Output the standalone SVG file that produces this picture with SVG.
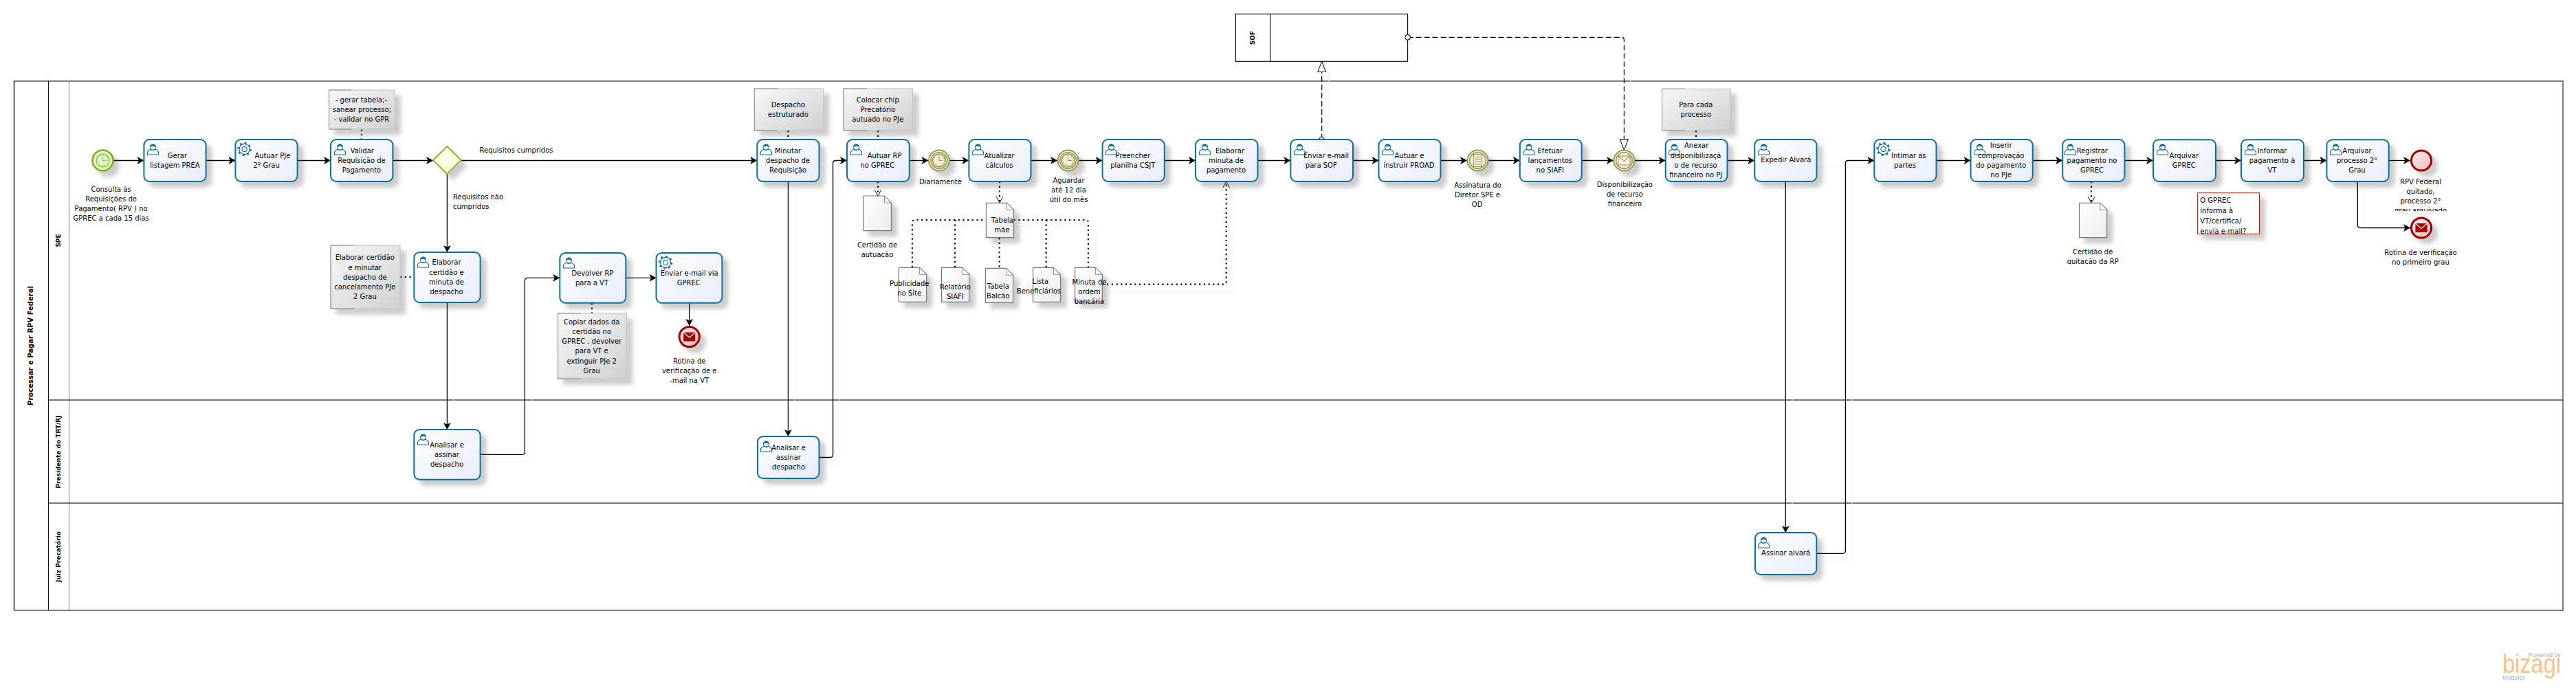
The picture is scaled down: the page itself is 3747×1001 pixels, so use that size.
<svg xmlns="http://www.w3.org/2000/svg" xmlns:xlink="http://www.w3.org/1999/xlink" width="3747" height="1001" viewBox="0 0 3747 1001">
<style>
text{font-family:"DejaVu Sans","Liberation Sans",sans-serif;fill:#000}
.t{font-size:10px;text-anchor:middle}
.l{font-size:10px;text-anchor:start}
.h{font-size:9px;font-weight:bold;text-anchor:middle;fill:#000}
.task{fill:url(#gTask);stroke:#0f6d9c;stroke-width:2;filter:url(#sh)}
.note{fill:url(#gNote);stroke:#bdbdbd;stroke-width:1;filter:url(#sh)}
.nedge{fill:none;stroke:#8c8c8c;stroke-width:1}
.doc{fill:url(#gDoc);stroke:#777;stroke-width:1.2;filter:url(#sh)}
.fold{fill:#fff;stroke:#888;stroke-width:1}
.seq{fill:none;stroke:#000;stroke-width:1.3;marker-end:url(#arrow)}
.dot{fill:none;stroke:#000;stroke-width:2.2;stroke-dasharray:2.2 4.5}
.doto{fill:none;stroke:#000;stroke-width:2.2;stroke-dasharray:2.2 4.5;marker-end:url(#open)}
.msg{fill:none;stroke:#000;stroke-width:1.2;stroke-dasharray:8 4;marker-start:url(#ring);marker-end:url(#hollow)}
.ghost{fill:none;stroke:#f4f4f4;stroke-width:1}
.pool{fill:none;stroke:#4a4a4a;stroke-width:1.4}
.ev-i{fill:url(#gInt);stroke:#9a9552;stroke-width:2}
.ev-in{fill:none;stroke:#9a9552;stroke-width:1.6}
.ev-e{fill:url(#gEnd);stroke:#a00000;stroke-width:3;filter:url(#sh)}
.ui{fill:#fff;stroke:#0f6d9c;stroke-width:1.1}
</style>
<defs>
<linearGradient id="gTask" x1="0" y1="0" x2="1" y2="1"><stop offset="0" stop-color="#fff"/><stop offset="1" stop-color="#e8edfd"/></linearGradient>
<linearGradient id="gNote" x1="0" y1="0" x2="1" y2="1"><stop offset="0" stop-color="#f8f8f8"/><stop offset="1" stop-color="#d0d0d0"/></linearGradient>
<linearGradient id="gDoc" x1="0" y1="0" x2="1" y2="1"><stop offset="0" stop-color="#fff"/><stop offset="1" stop-color="#ececec"/></linearGradient>
<linearGradient id="gGate" x1="0" y1="0" x2="1" y2="1"><stop offset="0" stop-color="#fffff2"/><stop offset="1" stop-color="#fbfbd2"/></linearGradient>
<linearGradient id="gStart" x1="0" y1="0" x2="1" y2="1"><stop offset="0" stop-color="#f4fae6"/><stop offset="1" stop-color="#d9edb0"/></linearGradient>
<linearGradient id="gInt" x1="0" y1="0" x2="1" y2="1"><stop offset="0" stop-color="#fbf9ee"/><stop offset="1" stop-color="#eae5c6"/></linearGradient>
<linearGradient id="gEnd" x1="0" y1="0" x2="1" y2="1"><stop offset="0" stop-color="#fdf0f0"/><stop offset="1" stop-color="#e8bcbc"/></linearGradient>
<filter id="sh" x="-40%" y="-40%" width="190%" height="190%"><feDropShadow dx="8" dy="8" stdDeviation="3" flood-color="#000" flood-opacity="0.2"/></filter>
<marker id="arrow" markerUnits="userSpaceOnUse" markerWidth="11" markerHeight="12" refX="10" refY="6" orient="auto"><path d="M0 0.5L10 6L0 11.5L2.5 6Z" fill="#000"/></marker>
<marker id="open" markerUnits="userSpaceOnUse" markerWidth="12" markerHeight="12" refX="10" refY="6" orient="auto"><path d="M1 1L10 6L1 11" fill="none" stroke="#000" stroke-width="0.9"/></marker>
<marker id="hollow" markerUnits="userSpaceOnUse" markerWidth="18" markerHeight="14" refX="16" refY="7" orient="auto"><path d="M0.5 1L16 7L0.5 13Z" fill="#fff" stroke="#000" stroke-width="1"/></marker>
<marker id="ring" markerUnits="userSpaceOnUse" markerWidth="10" markerHeight="10" refX="5" refY="5" orient="auto"><circle cx="5" cy="5" r="3.8" fill="#fff" stroke="#000" stroke-width="1"/></marker>
<g id="user"><path class="ui" d="M.5 16V12.5C.5 10 3 9.2 5.5 8 6.5 10 10.5 10 11.5 8 14 9.2 16.5 10 16.5 12.5V16Z"/><circle class="ui" cx="8.5" cy="5" r="4"/><path d="M4.5 5C4.5-.8 12.5-.8 12.5 5 10 3.4 7 3.4 4.5 5Z" fill="#0f6d9c"/></g>
<g id="gear"><circle r="9" fill="none" stroke="#0f6d9c" stroke-width="2.6" stroke-dasharray="2.6 4.47"/><circle r="7.6" fill="#fff" stroke="#0f6d9c" stroke-width="1.1"/><circle r="3.6" fill="#fff" stroke="#0f6d9c" stroke-width="1.1"/></g>
<g id="clock"><circle r="9.5" fill="none" stroke="currentColor" stroke-width="1.3"/><circle r="7.8" fill="none" stroke="currentColor" stroke-width="1.5" stroke-dasharray="1.2 2.9"/><path d="M0-6V0H5.5" fill="none" stroke="currentColor" stroke-width="1.1"/></g>
<g id="mailE"><rect x="-8.5" y="-6.5" width="17" height="13" fill="#a00000"/><path d="M-8.5-6.5L0 1 8.5-6.5" fill="none" stroke="#f6d9d9" stroke-width="1.5"/></g>
<clipPath id="cRpv"><rect x="3470" y="255" width="110" height="52"/></clipPath>
<clipPath id="cCom"><rect x="3197" y="281" width="90" height="59"/></clipPath>
<clipPath id="cReq"><rect x="650" y="270" width="90" height="35"/></clipPath>
<clipPath id="cAut"><rect x="1230" y="345" width="90" height="29.5"/></clipPath>
<clipPath id="cQui"><rect x="2990" y="355" width="110" height="29.5"/></clipPath>
</defs>
<rect width="3747" height="1001" fill="#fff"/>

<g id="pool-main">
<rect class="pool" x="20.5" y="118" width="3707.5" height="770"/>
<path d="M20.5 118V888M70.5 118V888" stroke="#111" stroke-width="1.1" fill="none"/>
<path d="M100.5 118V888" stroke="#666" stroke-width="0.8" fill="none"/>
<path class="pool" d="M70.5 582H3728M70.5 732H3728"/>
<text class="h" style="font-size:10px" transform="translate(48 503) rotate(-90)">Processar e Pagar RPV Federal</text>
<text class="h" transform="translate(88 350) rotate(-90)">SPE</text>
<text class="h" transform="translate(88 657.5) rotate(-90)">Presidente do TRT/RJ</text>
<text class="h" transform="translate(88 810) rotate(-90)">Juiz Precatório</text>
</g>

<g id="connectors">
<g id="connector-shadows">
<path class="ghost" d="M175 243H3516"/>
<path class="ghost" d="M660 263V635M1156 274V645M2607 274V785"/>
<path class="ghost" d="M708 671H769Q773 671 773 667V418Q773 414 777 414H824"/>
<path class="ghost" d="M1201 675H1217Q1221 675 1221 671V247Q1221 243 1225 243H1242"/>
<path class="ghost" d="M2652 815H2690Q2694 815 2694 811V247Q2694 243 2698 243H2736"/>
<path class="ghost" d="M1336 399V334Q1336 330 1340 330H1590Q1594 330 1594 334V399"/>
<path class="ghost" d="M1399 399V334M1531 399V334M1463 356V400"/>
<path class="ghost" d="M1613 424H1790Q1794 424 1794 420V274"/>
<path class="ghost" d="M2058 65H2368Q2372 65 2372 69V210M1933 100V213"/>
<path class="ghost" d="M3439 274V338Q3439 342 3443 342H3516"/>
</g>
<path class="seq" d="M165 233.5H209.4"/>
<path class="seq" d="M299.6 233.5H342.4"/>
<path class="seq" d="M432.6 233.5H481"/>
<path class="seq" d="M571.4 233.5H630"/>
<path class="seq" d="M670.5 233.5H1101.3"/>
<path class="seq" d="M650.4 253V367"/>
<path class="seq" d="M650.4 440V625"/>
<path class="seq" d="M698.7 661.4H759.4Q763.4 661.4 763.4 657.4V408.3Q763.4 404.3 767.4 404.3H814.3"/>
<path class="seq" d="M910.3 404.3H954.5"/>
<path class="seq" d="M1002.7 440.7V474"/>
<path class="seq" d="M1146.4 264V635"/>
<path class="seq" d="M1191.5 665.5H1207.6Q1211.6 665.5 1211.6 661.5V237.5Q1211.6 233.5 1215.6 233.5H1232"/>
<path class="seq" d="M1322.8 233.5H1350.4"/>
<path class="seq" d="M1381.6 233.5H1409.4"/>
<path class="seq" d="M1499.5 233.5H1538"/>
<path class="seq" d="M1569.2 233.5H1603.6"/>
<path class="seq" d="M1693.8 233.5H1739"/>
<path class="seq" d="M1829.4 233.5H1877.3"/>
<path class="seq" d="M1968 233.5H2005.5"/>
<path class="seq" d="M2095.5 233.5H2134"/>
<path class="seq" d="M2165 233.5H2210.8"/>
<path class="seq" d="M2300.7 233.5H2347"/>
<path class="seq" d="M2378 233.5H2422.7"/>
<path class="seq" d="M2512.5 233.5H2552.2"/>
<path class="seq" d="M2597.3 264V775"/>
<path class="seq" d="M2642.3 805.3H2680.4Q2684.4 805.3 2684.4 801.3V237.5Q2684.4 233.5 2688.4 233.5H2726.3"/>
<path class="seq" d="M2816.5 233.5H2866.5"/>
<path class="seq" d="M2956.7 233.5H3000.2"/>
<path class="seq" d="M3090.4 233.5H3132"/>
<path class="seq" d="M3223 233.5H3260"/>
<path class="seq" d="M3351 233.5H3384.4"/>
<path class="seq" d="M3474.7 233.5H3506"/>
<path class="seq" d="M3429.3 264V327.5Q3429.3 331.5 3433.3 331.5H3506"/>
<path class="dot" d="M526 188V203"/>
<path class="dot" d="M582 403H602"/>
<path class="dot" d="M861 441V456"/>
<path class="dot" d="M1146.4 190V203"/>
<path class="dot" d="M1277 190V203"/>
<path class="dot" d="M2467 190V203"/>
<path class="doto" d="M1277 264V285"/>
<path class="doto" d="M1454 264V295"/>
<path class="doto" d="M3042 264V295"/>
<path class="dot" d="M1327 389V324Q1327 320 1331 320H1434"/>
<path class="dot" d="M1389 389V324Q1389 320 1393 320"/>
<path class="dot" d="M1453.7 346V390"/>
<path class="dot" d="M1474.6 320H1579Q1583 320 1583 324V389"/>
<path class="dot" d="M1521.7 389V320"/>
<path class="doto" d="M1603.4 413.7H1779.7Q1783.7 413.7 1783.7 409.7V264"/>
<path class="msg" d="M1922.7 203V89.3"/>
<path class="msg" d="M2047.6 54.3H2358.4Q2362.4 54.3 2362.4 58.3V218"/>
</g>

<g id="sof">
<rect x="1797.4" y="20.3" width="250.2" height="69" fill="#fff" stroke="#000" stroke-width="1.1"/>
<path d="M1847.6 20.3V89.3" stroke="#000" stroke-width="1.1"/>
<text class="h" transform="translate(1825 55) rotate(-90)">SOF</text>
<circle cx="2047.6" cy="54.3" r="3.8" fill="#fff" stroke="#000" stroke-width="1"/>
</g>

<g id="start-consulta">
<circle cx="149.5" cy="233.5" r="15" fill="url(#gStart)" stroke="#74b21c" stroke-width="2.6" filter="url(#sh)"/>
<use href="#clock" x="149.5" y="233.5" style="color:#8fc43c"/>
<text class="t" x="161.6" y="278.5">Consulta às</text><text class="t" x="161.6" y="292.5">Requisições de</text><text class="t" x="161.6" y="306.5">Pagamento( RPV ) no</text><text class="t" x="161.6" y="320.5">GPREC a cada 15 dias</text>
</g>
<g id="t-gerar"><rect class="task" x="209.4" y="203" width="90.2" height="61" rx="8"/><use href="#user" x="214" y="209"/><text class="t" x="258" y="229.8">Gerar</text><text class="t" x="254.5" y="243.8">listagem PREA</text></g>
<g id="t-autuar-pje"><rect class="task" x="342.4" y="203" width="90.2" height="61" rx="8"/><use href="#gear" x="355.5" y="217"/><text class="t" x="396.4" y="229.8">Autuar PJe</text><text class="t" x="387.5" y="243.8">2º Grau</text></g>
<g id="t-validar"><rect class="task" x="481" y="203" width="90.4" height="61" rx="8"/><use href="#user" x="486" y="209"/><text class="t" x="526.8" y="222.8">Validar</text><text class="t" x="526" y="236.8">Requisição de</text><text class="t" x="526" y="250.8">Pagamento</text></g>
<g id="n-gerar"><rect class="note" x="478.6" y="131" width="95.9" height="57"/><path class="nedge" d="M511 131H478.6V188H511"/><text class="t" x="525.4" y="148.5">- gerar tabela;-</text><text class="t" x="526.3" y="162.5">sanear processo;</text><text class="t" x="526" y="176.5">- validar no GPR</text></g>
<g id="gw-requisitos"><path d="M650.4 213L670.5 233L650.4 253L630 233Z" fill="url(#gGate)" stroke="#a9a738" stroke-width="2" filter="url(#sh)"/>
<text class="t" x="751" y="222">Requisitos cumpridos</text>
<g clip-path="url(#cReq)"><text class="l" x="659" y="290">Requisitos não</text><text class="l" x="659" y="304">cumpridos</text></g></g>
<g id="n-elaborar"><rect class="note" x="481" y="357" width="101" height="92"/><path class="nedge" d="M515 357H481V449H515"/><text class="t" x="530.8" y="377.5">Elaborar certidão</text><text class="t" x="530.8" y="392.5">e minutar</text><text class="t" x="530.8" y="406.5">despacho de</text><text class="t" x="530.8" y="420.5">cancelamento PJe</text><text class="t" x="530.8" y="434.5">2 Grau</text></g>
<g id="t-elaborar"><rect class="task" x="602.3" y="367" width="96.3" height="73" rx="8"/><use href="#user" x="607" y="373"/><text class="t" x="649.5" y="384.5">Elaborar</text><text class="t" x="649.5" y="399.5">certidão e</text><text class="t" x="649.5" y="413.5">minuta de</text><text class="t" x="649.5" y="427.5">despacho</text></g>
<g id="t-analisar1"><rect class="task" x="602.3" y="625" width="96.3" height="72.7" rx="8"/><use href="#user" x="607" y="631"/><text class="t" x="650" y="650.8">Analisar e</text><text class="t" x="650" y="664.8">assinar</text><text class="t" x="650" y="678.8">despacho</text></g>
<g id="t-devolver"><rect class="task" x="814.3" y="368" width="96" height="72.7" rx="8"/><use href="#user" x="819" y="374"/><text class="t" x="862" y="400.8">Devolver RP</text><text class="t" x="861" y="414.8">para a VT</text></g>
<g id="t-enviar-gprec"><rect class="task" x="954.5" y="368" width="95.9" height="72.7" rx="8"/><use href="#gear" x="968" y="382"/><text class="t" x="1002.7" y="400.8">Enviar e-mail via</text><text class="t" x="1001.8" y="414.8">GPREC</text></g>
<g id="n-copiar"><rect class="note" x="811.6" y="456" width="100" height="95"/><path class="nedge" d="M845 456H811.6V551H845"/><text class="t" x="860.7" y="471.8">Copiar dados da</text><text class="t" x="860.7" y="485.8">certidão no</text><text class="t" x="860.7" y="499.8">GPREC ,  devolver</text><text class="t" x="860.7" y="513.8">para VT e</text><text class="t" x="860.7" y="528.8">extinguir PJe 2</text><text class="t" x="860.7" y="542.8">Grau</text></g>
<g id="end-rotina-vt"><circle class="ev-e" cx="1002.7" cy="490" r="14.6"/><use href="#mailE" x="1002.7" y="490"/><text class="t" x="1002.7" y="528.8">Rotina de</text><text class="t" x="1002.7" y="542.8">verificação de  e</text><text class="t" x="1002.7" y="556.8">-mail na VT</text></g>
<g id="t-minutar"><rect class="task" x="1101.3" y="203" width="90.2" height="61" rx="8"/><use href="#user" x="1106" y="209"/><text class="t" x="1146" y="222.8">Minutar</text><text class="t" x="1146" y="236.8">despacho de</text><text class="t" x="1146" y="250.8">Requisição</text></g>
<g id="n-despacho"><rect class="note" x="1097.3" y="129" width="100.5" height="60.7"/><path class="nedge" d="M1131 129H1097.3V189.7H1131"/><text class="t" x="1146.4" y="155.8">Despacho</text><text class="t" x="1146.4" y="169.8">estruturado</text></g>
<g id="t-analisar2"><rect class="task" x="1102" y="635" width="89.5" height="61" rx="8"/><use href="#user" x="1106" y="641"/><text class="t" x="1147" y="654.8">Analisar e</text><text class="t" x="1147" y="668.8">assinar</text><text class="t" x="1147" y="682.8">despacho</text></g>
<g id="n-colocar"><rect class="note" x="1227" y="129" width="100.7" height="60.7"/><path class="nedge" d="M1261 129H1227V189.7H1261"/><text class="t" x="1276.8" y="148.8">Colocar chip</text><text class="t" x="1276.8" y="162.8">Precatório</text><text class="t" x="1276.8" y="176.8">autuado no PJe</text></g>
<g id="t-autuar-rp"><rect class="task" x="1232" y="203" width="90.8" height="61" rx="8"/><use href="#user" x="1237" y="209"/><text class="t" x="1286.6" y="229.8">Autuar RP</text><text class="t" x="1276.3" y="243.8">no GPREC</text></g>
<g id="d-certidao"><path class="doc" d="M1256 285H1286.4L1296.4 295V335.7H1256Z"/><path class="fold" d="M1286.4 285V295H1296.4Z"/><g clip-path="url(#cAut)"><text class="t" x="1276" y="359.5">Certidão de</text><text class="t" x="1276" y="373.5">autuação</text></g></g>
<g id="ev-diariamente"><circle class="ev-i" cx="1366" cy="233.5" r="15" filter="url(#sh)"/><circle class="ev-in" cx="1366" cy="233.5" r="11.8"/><use href="#clock" x="1366" y="233.5" style="color:#9a9552"/><text class="t" x="1367.9" y="267.5">Diariamente</text></g>
<g id="t-atualizar"><rect class="task" x="1409.4" y="203" width="90.1" height="61" rx="8"/><use href="#user" x="1414" y="209"/><text class="t" x="1453.6" y="229.8">Atualizar</text><text class="t" x="1453.6" y="243.8">cálculos</text></g>
<g id="ev-aguardar"><circle class="ev-i" cx="1553.6" cy="233.5" r="15" filter="url(#sh)"/><circle class="ev-in" cx="1553.6" cy="233.5" r="11.8"/><use href="#clock" x="1553.6" y="233.5" style="color:#9a9552"/><text class="t" x="1554.5" y="265.8">Aguardar</text><text class="t" x="1554.5" y="279.8">até 12 dia</text><text class="t" x="1554.5" y="293.8">útil do mês</text></g>
<g id="t-preencher"><rect class="task" x="1603.6" y="203" width="90.2" height="61" rx="8"/><use href="#user" x="1608" y="209"/><text class="t" x="1647.8" y="229.8">Preencher</text><text class="t" x="1647.8" y="243.8">planilha CSJT</text></g>
<g id="d-tabela-mae"><path class="doc" d="M1434.4 295.3H1464.6L1474.6 305.3V345.7H1434.4Z"/><path class="fold" d="M1464.6 295.3V305.3H1474.6Z"/><text class="t" x="1458" y="323.5">Tabela</text><text class="t" x="1457.6" y="337.8">mãe</text></g>
<g id="d-publicidade"><path class="doc" d="M1307.4 389.3H1337.6L1347.6 399.3V439.3H1307.4Z"/><path class="fold" d="M1337.6 389.3V399.3H1347.6Z"/><text class="t" x="1322.8" y="415.8">Publicidade</text><text class="t" x="1322.8" y="429.8">no Site</text></g>
<g id="d-relatorio"><path class="doc" d="M1369.6 389.3H1399.8L1409.8 399.3V439.3H1369.6Z"/><path class="fold" d="M1399.8 389.3V399.3H1409.8Z"/><text class="t" x="1389.3" y="420.5">Relatório</text><text class="t" x="1389.3" y="434.5">SIAFI</text></g>
<g id="d-balcao"><path class="doc" d="M1433.4 390.3H1463.6L1473.6 400.3V440.3H1433.4Z"/><path class="fold" d="M1463.6 390.3V400.3H1473.6Z"/><text class="t" x="1451.8" y="419.8">Tabela</text><text class="t" x="1451.8" y="433.8">Balcão</text></g>
<g id="d-lista"><path class="doc" d="M1502.6 389.3H1532.5L1542.5 399.3V439.3H1502.6Z"/><path class="fold" d="M1532.5 389.3V399.3H1542.5Z"/><text class="t" x="1513.4" y="412.8">Lista</text><text class="t" x="1511" y="426.8">Beneficiários</text></g>
<g id="d-minuta"><path class="doc" d="M1563.6 389.3H1593.4L1603.4 399.3V439.3H1563.6Z"/><path class="fold" d="M1593.4 389.3V399.3H1603.4Z"/><text class="t" x="1584.5" y="413.8">Minuta de</text><text class="t" x="1584.5" y="427.8">ordem</text><text class="t" x="1584.5" y="441.8">bancária</text></g>
<g id="t-elaborar-minuta"><rect class="task" x="1739" y="203" width="90.4" height="61" rx="8"/><use href="#user" x="1744" y="209"/><text class="t" x="1789" y="222.8">Elaborar</text><text class="t" x="1783.5" y="236.8">minuta de</text><text class="t" x="1783.5" y="250.8">pagamento</text></g>
<g id="t-enviar-sof"><rect class="task" x="1877.3" y="203" width="90.7" height="61" rx="8"/><use href="#user" x="1882" y="209"/><text class="t" x="1929" y="229.8">Enviar e-mail</text><text class="t" x="1921.8" y="243.8">para SOF</text></g>
<g id="t-proad"><rect class="task" x="2005.5" y="203" width="90" height="61" rx="8"/><use href="#user" x="2010" y="209"/><text class="t" x="2050" y="229.8">Autuar  e</text><text class="t" x="2049.5" y="243.8">instruir PROAD</text></g>
<g id="ev-assinatura"><circle class="ev-i" cx="2149.5" cy="233.5" r="15" filter="url(#sh)"/><circle class="ev-in" cx="2149.5" cy="233.5" r="11.8"/><rect x="2143.5" y="224.5" width="12" height="18" fill="#f3efd8" stroke="#9a9552" stroke-width="1.1"/><path d="M2145.5 228.5h8M2145.5 232h8M2145.5 235.5h8M2145.5 239h8" stroke="#9a9552" stroke-width="1"/><text class="t" x="2149.5" y="272.5">Assinatura do</text><text class="t" x="2149" y="286.5">Diretor SPE e</text><text class="t" x="2148.6" y="300.5">OD</text></g>
<g id="t-efetuar"><rect class="task" x="2210.8" y="203" width="89.9" height="61" rx="8"/><use href="#user" x="2215.5" y="209"/><text class="t" x="2254.8" y="222.8">Efetuar</text><text class="t" x="2254.8" y="236.8">lançamentos</text><text class="t" x="2254.8" y="250.8">no SIAFI</text></g>
<g id="ev-disponibilizacao"><circle class="ev-i" cx="2362.4" cy="233.5" r="15" filter="url(#sh)"/><circle class="ev-in" cx="2362.4" cy="233.5" r="11.8"/><rect x="2354" y="227" width="17" height="13" fill="#f8f5e4" stroke="#9a9552" stroke-width="1.1"/><path d="M2354 227L2362.5 234.5L2371 227" fill="none" stroke="#9a9552" stroke-width="1.1"/><text class="t" x="2363.4" y="271.8">Disponibilização</text><text class="t" x="2363.4" y="285.8">de recurso</text><text class="t" x="2363.4" y="299.8">financeiro</text></g>
<g id="n-para-cada"><rect class="note" x="2417.5" y="129.3" width="99.9" height="60.4"/><path class="nedge" d="M2451 129.3H2417.5V189.7H2451"/><text class="t" x="2466.8" y="155.8">Para cada</text><text class="t" x="2466.8" y="169.8">processo</text></g>
<g id="t-anexar"><rect class="task" x="2422.7" y="203" width="89.8" height="61" rx="8"/><use href="#user" x="2427" y="209"/><text class="t" x="2467.7" y="214.8">Anexar</text><text class="t" x="2466.6" y="229.5">disponibilizaçã</text><text class="t" x="2466.6" y="243.8">o de recurso</text><text class="t" x="2466.6" y="257.8">financeiro no PJ</text></g>
<g id="t-expedir"><rect class="task" x="2552.2" y="203" width="90.2" height="61" rx="8"/><use href="#user" x="2557" y="209"/><text class="t" x="2597.8" y="235.8">Expedir Alvará</text></g>
<g id="t-assinar"><rect class="task" x="2553" y="775" width="89.3" height="61" rx="8"/><use href="#user" x="2557" y="781"/><text class="t" x="2597.6" y="807.8">Assinar alvará</text></g>
<g id="t-intimar"><rect class="task" x="2726.3" y="203" width="90.2" height="61" rx="8"/><use href="#gear" x="2739.5" y="217"/><text class="t" x="2776.3" y="229.8">Intimar as</text><text class="t" x="2771" y="243.8">partes</text></g>
<g id="t-inserir"><rect class="task" x="2866.5" y="203" width="90.2" height="61" rx="8"/><use href="#user" x="2871" y="209"/><text class="t" x="2910.7" y="214.8">Inserir</text><text class="t" x="2910.7" y="229.8">comprovação</text><text class="t" x="2910.7" y="243.8">do pagamento</text><text class="t" x="2910.7" y="257.8">no PJe</text></g>
<g id="t-registrar"><rect class="task" x="3000.2" y="203" width="90.2" height="61" rx="8"/><use href="#user" x="3003" y="209"/><text class="t" x="3043.3" y="222.8">Registrar</text><text class="t" x="3043" y="236.8">pagamento no</text><text class="t" x="3043" y="250.8">GPREC</text></g>
<g id="d-quitacao"><path class="doc" d="M3024.5 295.3H3054.7L3064.7 305.3V345.7H3024.5Z"/><path class="fold" d="M3054.7 295.3V305.3H3064.7Z"/><g clip-path="url(#cQui)"><text class="t" x="3044.2" y="369.5">Certidão de</text><text class="t" x="3044.2" y="383.5">quitação da RP</text></g></g>
<g id="t-arq-gprec"><rect class="task" x="3132" y="203.3" width="91" height="60.7" rx="8"/><use href="#user" x="3137" y="209"/><text class="t" x="3176.8" y="229.8">Arquivar</text><text class="t" x="3176.8" y="243.8">GPREC</text></g>
<g id="t-informar"><rect class="task" x="3260" y="203.3" width="91" height="60.7" rx="8"/><use href="#user" x="3265" y="209"/><text class="t" x="3305" y="222.8">Informar</text><text class="t" x="3305" y="236.8">pagamento à</text><text class="t" x="3305" y="250.8">VT</text></g>
<g id="t-arq-processo"><rect class="task" x="3384.4" y="203.3" width="90.3" height="60.7" rx="8"/><use href="#user" x="3389" y="209"/><text class="t" x="3428.5" y="222.8">Arquivar</text><text class="t" x="3428.5" y="236.8">processo 2°</text><text class="t" x="3428.5" y="250.8">Grau</text></g>
<g id="comment"><rect x="3196.6" y="280.7" width="89.9" height="59.6" fill="#fff" stroke="#a02000" stroke-width="1" filter="url(#sh)"/><g clip-path="url(#cCom)"><text class="l" x="3200.3" y="294.8">O GPREC</text><text class="l" x="3200.3" y="309.8">informa à</text><text class="l" x="3200.3" y="324.8">VT/certifica/</text><text class="l" x="3200.3" y="339.5">envia e-mail?</text></g></g>
<g id="end-rpv"><circle class="ev-e" cx="3522" cy="233.5" r="14.6"/><g clip-path="url(#cRpv)"><text class="t" x="3521" y="267.5">RPV Federal</text><text class="t" x="3521" y="281.5">quitado,</text><text class="t" x="3521" y="295.5">processo 2°</text><text class="t" x="3521" y="309.5">grau arquivado</text></g></g>
<g id="end-rotina"><circle class="ev-e" cx="3522" cy="331.5" r="14.6"/><use href="#mailE" x="3522" y="331.5"/><text class="t" x="3521" y="370.5">Rotina de verificação</text><text class="t" x="3521" y="384.5">no primeiro grau</text></g>
<g id="logo">
<text x="3725" y="956" style="font-size:9px;text-anchor:end;fill:#a9b3bd;font-family:'Liberation Sans',sans-serif">Powered by</text>
<text x="3640" y="979" style="font-size:38px;fill:#f6c28e;font-family:'Liberation Sans',sans-serif" textLength="85" lengthAdjust="spacingAndGlyphs">bizagi</text>
<text x="3640" y="989" style="font-size:9px;fill:#a9b3bd;font-family:'Liberation Sans',sans-serif">Modeler</text>
</g>
</svg>
